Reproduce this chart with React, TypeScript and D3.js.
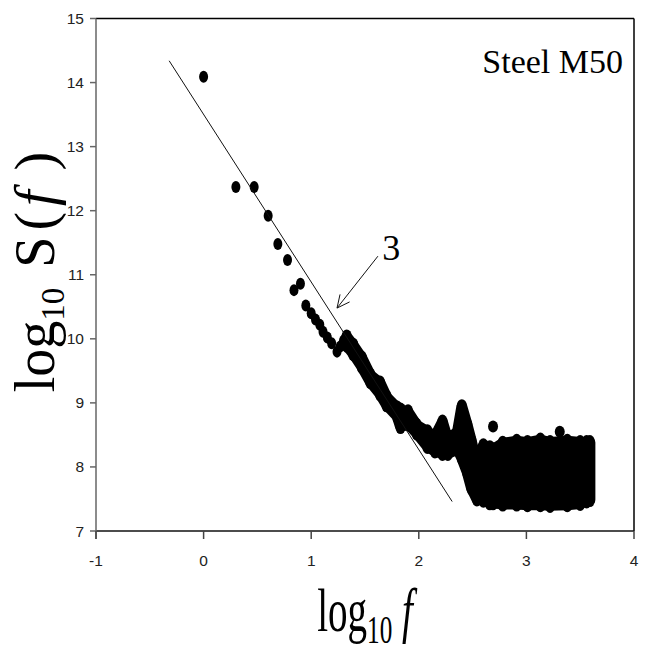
import * as d3 from 'd3';

// axis ticks
const xTicks = [-1, 0, 1, 2, 3, 4];
const yTicks = [7, 8, 9, 10, 11, 12, 13, 14, 15];

// separate points at low frequency (log10 f, log10 S)
const lowF = [0, 0.3, 0.47, 0.6, 0.69, 0.78, 0.84, 0.9, 0.95, 1.0, 1.04, 1.08, 1.11, 1.15, 1.19, 1.24, 1.27, 1.3];
const lowS = [14.09, 12.37, 12.37, 11.92, 11.48, 11.23, 10.76, 10.86, 10.52, 10.4, 10.3, 10.22, 10.11, 10.02, 9.93, 9.8, 9.88, 9.97];

// dense part: outer envelope of the overlapping points
const bandF = [1.33, 1.39, 1.47, 1.55, 1.64, 1.7, 1.8, 1.83, 1.9, 1.98, 2.08, 2.15, 2.22, 2.27, 2.36, 2.4, 2.45, 2.49, 2.54, 2.6, 2.66, 2.69, 2.78, 2.91, 3.01, 3.13, 3.22, 3.38, 3.5, 3.56, 3.59];
const bandTop = [10.03, 9.9, 9.7, 9.43, 9.31, 9.09, 8.92, 8.89, 8.86, 8.65, 8.55, 8.47, 8.7, 8.42, 8.55, 8.94, 8.65, 8.39, 8.03, 8.33, 8.3, 8.27, 8.37, 8.4, 8.38, 8.42, 8.38, 8.4, 8.38, 8.38, 8.38];
const bandBottom = [9.9, 9.77, 9.57, 9.33, 9.14, 8.97, 8.79, 8.63, 8.67, 8.53, 8.32, 8.25, 8.21, 8.21, 8.28, 8.14, 7.92, 7.67, 7.5, 7.48, 7.44, 7.44, 7.42, 7.42, 7.41, 7.41, 7.4, 7.41, 7.43, 7.47, 7.49];

// isolated points above the noise floor
const strayF = [2.69, 3.31];
const strayS = [8.63, 8.55];

// fitted slope line
const fitF = [-0.32, 2.31];
const fitS = [14.34, 7.46];

const W = 654;
const H = 654;
const serif = '"Liberation Serif", "Times New Roman", serif';
const sans = '"Liberation Sans", Arial, sans-serif';

export default function App() {
  const x = d3.scaleLinear().domain([-1, 4]).range([96, 634]);
  const y = d3.scaleLinear().domain([7, 15]).range([531, 18.5]);

  const band = bandF.map((f, i) => ({ f, top: bandTop[i], bottom: bandBottom[i] }));
  const area = d3.area<{ f: number; top: number; bottom: number }>()
    .x(d => x(d.f))
    .y0(d => y(d.bottom))
    .y1(d => y(d.top));

  const fit = d3.line<number>()
    .x((d, i) => x(fitF[i]))
    .y(d => y(d));

  // arrow from label to the fitted line
  const ax0 = x(1.62), ay0 = y(11.29);
  const ax1 = x(1.24), ay1 = y(10.48);
  const ang = Math.atan2(ay1 - ay0, ax1 - ax0);
  const head = 14;
  const spread = 0.45;
  const h1 = [ax1 - head * Math.cos(ang - spread), ay1 - head * Math.sin(ang - spread)];
  const h2 = [ax1 - head * Math.cos(ang + spread), ay1 - head * Math.sin(ang + spread)];

  const [x0, x1] = x.range();
  const [y0, y1] = y.range();

  return (
    <svg width={W} height={H} style={{ position: 'absolute', left: 0, top: 0, background: '#fff' }}>
      <rect width={W} height={H} fill="#fff" />

      {/* frame */}
      <line x1={x0} x2={x1} y1={y1} y2={y1} stroke="#000" strokeWidth={1.5} />
      <line x1={x1} x2={x1} y1={y1} y2={y0} stroke="#000" strokeWidth={1.5} />
      <line x1={x0} x2={x1} y1={y0} y2={y0} stroke="#111" strokeWidth={1.5} />
      <line x1={x0} x2={x0} y1={y1} y2={y0 + 8} stroke="#666" strokeWidth={1.5} />

      {yTicks.map(t => (
        <g key={'y' + t}>
          <line x1={x0 - 6} x2={x0} y1={y(t)} y2={y(t)} stroke="#666" strokeWidth={1.5} />
          <text x={x0 - 12} y={y(t) + 5.5} textAnchor="end" fontFamily={sans} fontSize={15.5} fill="#222">{t}</text>
        </g>
      ))}
      {xTicks.map(t => (
        <g key={'x' + t}>
          <line x1={x(t)} x2={x(t)} y1={y0} y2={y0 + 8} stroke="#444" strokeWidth={1.5} />
          <text x={x(t)} y={566} textAnchor="middle" fontFamily={sans} fontSize={15.5} fill="#222">{t}</text>
        </g>
      ))}

      {/* data */}
      <path d={area(band) ?? ''} fill="#000" stroke="#000" strokeWidth={11} strokeLinejoin="round" />
      {bandF.map((f, i) => (
        <g key={'b' + i}>
          <ellipse cx={x(f)} cy={y(bandTop[i]) - 1} rx={5} ry={6.5} fill="#000" />
          <ellipse cx={x(f)} cy={y(bandBottom[i]) + 1} rx={5} ry={6.5} fill="#000" />
        </g>
      ))}
      {lowF.map((f, i) => (
        <ellipse key={'p' + i} cx={x(f)} cy={y(lowS[i])} rx={4.5} ry={6} fill="#000" />
      ))}
      {strayF.map((f, i) => (
        <ellipse key={'s' + i} cx={x(f)} cy={y(strayS[i])} rx={5} ry={6} fill="#000" />
      ))}

      <path d={fit(fitS) ?? ''} fill="none" stroke="#111" strokeWidth={1} />

      <line x1={ax0} y1={ay0} x2={ax1} y2={ay1} stroke="#111" strokeWidth={1} />
      <polyline points={`${h1[0]},${h1[1]} ${ax1},${ay1} ${h2[0]},${h2[1]}`} fill="none" stroke="#111" strokeWidth={1} />
      <text x={x(1.66)} y={y(11.23)} fontFamily={serif} fontSize={36} fill="#000">3</text>

      <text x={623} y={73} textAnchor="end" fontFamily={serif} fontSize={34} fill="#000">Steel M50</text>

      {/* axis titles */}
      <text transform={`translate(54, 272) rotate(-90)`} textAnchor="middle" fontFamily={serif} fill="#000">
        <tspan fontSize={56}>log</tspan>
        <tspan fontSize={33} dy={10}>10</tspan>
        <tspan fontSize={56} dy={-10} letterSpacing={6}> S(</tspan>
        <tspan fontSize={56} fontStyle="italic" letterSpacing={6}>f</tspan>
        <tspan fontSize={56}> )</tspan>
      </text>
      <g transform="translate(365, 631) scale(0.63, 1)">
        <text textAnchor="middle" fontFamily={serif} fill="#000">
          <tspan fontSize={62}>log</tspan>
          <tspan fontSize={40} dy={12}>10</tspan>
          <tspan fontSize={62} dy={-12}> </tspan>
          <tspan fontSize={62} fontStyle="italic">f</tspan>
        </text>
      </g>
    </svg>
  );
}
